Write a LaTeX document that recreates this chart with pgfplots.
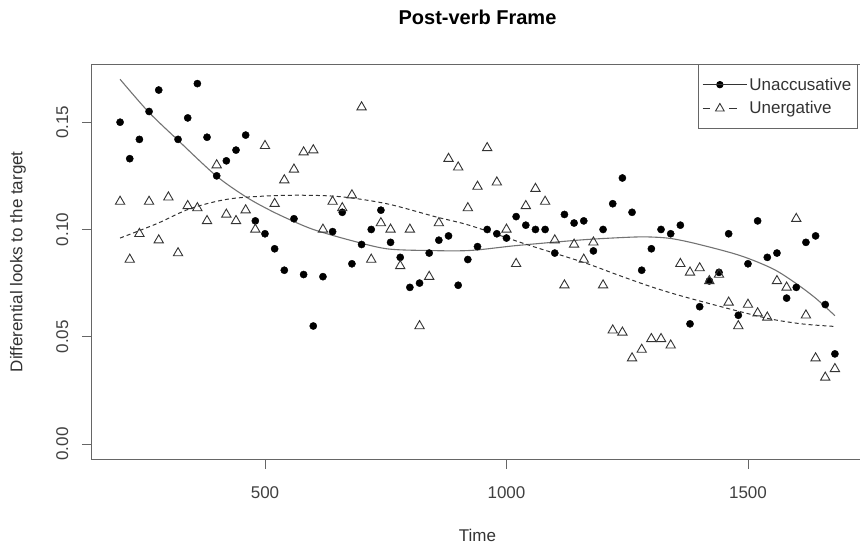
\documentclass[border=0pt]{standalone}
\usepackage{fontspec}
\setmainfont{Liberation Sans}
\setsansfont{Liberation Sans}
\usepackage{pgfplots}
\usepackage{pgfplotstable}
\pgfplotsset{compat=1.18}

% looks per time bin, filled circles
\pgfplotstableread{
t v
200 0.150
220 0.133
240 0.142
260 0.155
280 0.165
320 0.142
340 0.152
360 0.168
380 0.143
400 0.125
420 0.132
440 0.137
460 0.144
480 0.104
500 0.098
520 0.091
540 0.081
560 0.105
580 0.079
600 0.055
620 0.078
640 0.099
660 0.108
680 0.084
700 0.093
720 0.100
740 0.109
760 0.094
780 0.087
800 0.073
820 0.075
840 0.089
860 0.095
880 0.097
900 0.074
920 0.086
940 0.092
960 0.100
980 0.098
1000 0.096
1020 0.106
1040 0.102
1060 0.100
1080 0.100
1100 0.089
1120 0.107
1140 0.103
1160 0.104
1180 0.090
1200 0.100
1220 0.112
1240 0.124
1260 0.108
1280 0.081
1300 0.091
1320 0.100
1340 0.098
1360 0.102
1380 0.056
1400 0.064
1420 0.076
1440 0.080
1460 0.098
1480 0.060
1500 0.084
1520 0.104
1540 0.087
1560 0.089
1580 0.068
1600 0.073
1620 0.094
1640 0.097
1660 0.065
1680 0.042
}\unacc

% open triangles
\pgfplotstableread{
t v
200 0.113
220 0.086
240 0.098
260 0.113
280 0.095
300 0.115
320 0.089
340 0.111
360 0.110
380 0.104
400 0.130
420 0.107
440 0.104
460 0.109
480 0.100
500 0.139
520 0.112
540 0.123
560 0.128
580 0.136
600 0.137
620 0.100
640 0.113
660 0.110
680 0.116
700 0.157
720 0.086
740 0.103
760 0.100
780 0.083
800 0.100
820 0.055
840 0.078
860 0.103
880 0.133
900 0.129
920 0.110
940 0.120
960 0.138
980 0.122
1000 0.100
1020 0.084
1040 0.111
1060 0.119
1080 0.113
1100 0.095
1120 0.074
1140 0.093
1160 0.086
1180 0.094
1200 0.074
1220 0.053
1240 0.052
1260 0.040
1280 0.044
1300 0.049
1320 0.049
1340 0.046
1360 0.084
1380 0.080
1400 0.082
1420 0.076
1440 0.079
1460 0.066
1480 0.055
1500 0.065
1520 0.061
1540 0.059
1560 0.076
1580 0.073
1600 0.105
1620 0.060
1640 0.040
1660 0.031
1680 0.035
}\unerg

% fitted curves, read off the picture
\pgfplotstableread{
t v
200 0.170
258 0.155
318 0.142
399 0.125
462 0.115
510 0.109
552 0.1045
600 0.100
676 0.095
752 0.091
835 0.0902
924 0.0902
1021 0.0925
1159 0.0952
1256 0.0964
1297 0.0965
1340 0.0958
1394 0.0933
1483 0.0879
1552 0.0816
1601 0.0746
1642 0.0676
1680 0.0598
}\fitunacc

\pgfplotstableread{
t v
200 0.096
276 0.1027
345 0.1097
428 0.1143
540 0.1159
650 0.1154
752 0.1120
855 0.1058
924 0.1019
1042 0.0930
1159 0.0847
1228 0.0790
1297 0.0735
1359 0.0692
1463 0.0629
1546 0.0583
1615 0.0559
1680 0.0548
}\fitunerg

\begin{document}
\begin{tikzpicture}
% the original image is cropped just left of the plot's right border
\path[use as bounding box] (-91.5pt,-84pt) rectangle (768.5pt,459pt);
\clip (-91.5pt,-84pt) rectangle (768.5pt,459pt);
\begin{axis}[
  at={(0pt,0pt)}, anchor=south west,
  scale only axis,
  width=772pt, height=394.7pt,
  xmin=140.8, xmax=1739.2,
  ymin=-0.007, ymax=0.177,
  xtick={500,1000,1500},
  ytick={0,0.05,0.10,0.15},
  xticklabel style={/pgf/number format/set thousands separator={}},
  yticklabel style={/pgf/number format/fixed, /pgf/number format/fixed zerofill,
    /pgf/number format/precision=2},
  scaled y ticks=false,
  /pgf/number format/assume math mode=true,
  xtick pos=bottom, ytick pos=left,
  tick align=outside,
  major tick length=9.6pt,
  axis line style={black!60, line width=0.9pt},
  every tick/.style={black!60, line width=0.9pt},
  tick label style={font=\fontsize{17}{20}\selectfont, text=black!75},
  yticklabel style={rotate=90, anchor=south},
  xticklabel style={anchor=north},
  xticklabel shift=14pt,
  yticklabel shift=10pt,
  title={Post-verb Frame},
  title style={at={(axis description cs:0.5,1.1046)}, anchor=center,
    font=\bfseries\fontsize{20}{24}\selectfont},
  xlabel={Time},
  every axis x label/.style={at={(axis description cs:0.5,-0.1926)}, anchor=center,
    font=\fontsize{17}{20}\selectfont, text=black!80},
  ylabel={Differential looks to the target},
  every axis y label/.style={at={(axis description cs:-0.0952,0.5)}, rotate=90, anchor=center,
    font=\fontsize{17}{20}\selectfont, text=black!80},
  legend style={at={(0.7856,1)}, anchor=north west, draw=black!60, line width=0.9pt,
    fill=white, font=\fontsize{17}{20}\selectfont, text=black!80,
    inner xsep=4pt, inner ysep=11pt, row sep=6pt},
  legend cell align=left,
  legend image code/.code={
    \draw[mark repeat=2,mark phase=2] plot coordinates {(0pt,0pt)(17pt,0pt)(34pt,0pt)};
    \path (0pt,0pt) -- (44pt,0pt);
  },
]
\addlegendimage{black!80, line width=0.9pt, mark=*, mark size=3.2pt, mark options={black, solid}}
\addlegendentry{Unaccusative\hspace{20pt}}
\addlegendimage{black!80, line width=0.9pt, dash pattern=on 7.5pt off 19pt, mark=triangle, mark size=5pt, mark options={black!80, solid, line width=0.9pt}}
\addlegendentry{Unergative}

\addplot[only marks, mark=*, mark size=3.6pt, black, forget plot] table[x=t, y=v] {\unacc};
\addplot[only marks, mark=triangle, mark size=5.4pt, black!80, line width=0.9pt, forget plot] table[x=t, y=v] {\unerg};

\addplot[smooth, black!55, line width=1.1pt, forget plot] table[x=t, y=v] {\fitunacc};
\addplot[smooth, black!80, line width=1pt, dash pattern=on 4pt off 3pt, forget plot] table[x=t, y=v] {\fitunerg};
\end{axis}
\end{tikzpicture}
\end{document}
